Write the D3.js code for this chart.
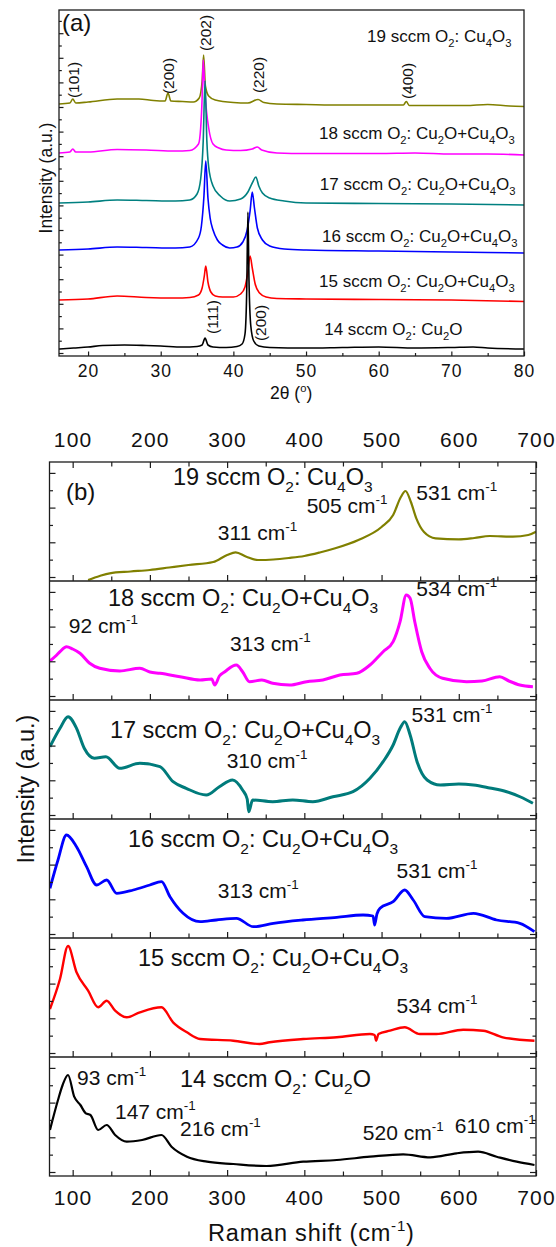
<!DOCTYPE html>
<html>
<head>
<meta charset="utf-8">
<script src="https://cdn.jsdelivr.net/npm/d3@7"></script>
<style>
  body { margin: 0; background: #fff; }
  svg { display: block; }
  text { font-family: "Liberation Sans", Arial, sans-serif; fill: #111; white-space: pre; }
</style>
</head>
<body>
<svg id="chart" width="556" height="1247"></svg>
<script>
// ---- panel (a): XRD, 2theta (deg) vs intensity (a.u.) ----
const xrdNames = [
  '14 sccm O_2: Cu_2O',
  '15 sccm O_2: Cu_2O+Cu_4O_3',
  '16 sccm O_2: Cu_2O+Cu_4O_3',
  '17 sccm O_2: Cu_2O+Cu_4O_3',
  '18 sccm O_2: Cu_2O+Cu_4O_3',
  '19 sccm O_2: Cu_4O_3'
]
const xrd14 = [[16, 7], [18, 8], [20, 9], [22, 10.5], [25, 11], [28, 10.5], [30, 10], [33, 9], [35, 9.5], [35.7, 11], [36.1, 18], [36.5, 11], [37.2, 9], [39, 8.5], [40.5, 9.5], [41.2, 12], [41.6, 22], [41.85, 70], [42.0, 144], [42.15, 75], [42.4, 30], [42.8, 15], [43.5, 10], [45, 8.5], [50, 8], [55, 8.5], [60, 9], [65, 8], [70, 8.5], [73, 9], [75, 8], [80, 7]]
const xrd15 = [[16, 56], [20, 57], [24, 60], [28, 58.5], [32, 58], [34, 58.5], [35.2, 61], [35.7, 68], [36.0, 80], [36.2, 90], [36.5, 74], [36.9, 64], [37.5, 60], [38.5, 59], [40, 59], [41, 62], [41.6, 69], [41.95, 82], [42.3, 100], [42.6, 88], [43.0, 72], [43.6, 63], [44.5, 59], [46, 57.5], [50, 57], [60, 56.5], [70, 56], [80, 54.5]]
const xrd16 = [[16, 106], [20, 107], [24, 109], [28, 108.5], [32, 108], [34, 109], [35.2, 118], [35.6, 130], [35.95, 160], [36.2, 195], [36.5, 158], [36.8, 138], [37.2, 126], [37.8, 116], [38.5, 111], [39.5, 108], [40.5, 109], [41.3, 114], [41.9, 126], [42.3, 145], [42.6, 164], [42.9, 148], [43.3, 128], [44, 116], [45, 110], [47, 107], [50, 106], [60, 105], [70, 104], [80, 103]]
const xrd17 = [[16, 153], [20, 154], [24, 156], [28, 155.5], [32, 155], [34, 156], [35.0, 162], [35.5, 177], [35.85, 215], [36.1, 275], [36.35, 215], [36.6, 189], [37.2, 170], [38.2, 160], [39.5, 155], [41, 157], [42, 164], [42.6, 173], [43.1, 179], [43.5, 170], [44, 163], [45, 158], [47, 155], [50, 153], [60, 152.5], [70, 152], [80, 151]]
const xrd18 = [[16, 203], [17.5, 204], [17.9, 207], [18.3, 204], [20, 204], [24, 206.5], [28, 206], [32, 205], [34, 205.5], [35.2, 212], [35.5, 228], [35.7, 258], [35.85, 296], [36.05, 268], [36.3, 245], [36.6, 228], [37.2, 212], [38, 208], [39, 206], [41, 205.5], [42.6, 207], [43.3, 209], [43.9, 206], [46, 203], [50, 202.5], [60, 202.5], [65, 203], [70, 202], [75, 202], [80, 201]]
const xrd19 = [[16, 252], [17.5, 253], [17.9, 257], [18.3, 253], [20, 254], [24, 257], [27, 257], [29, 255.5], [30.6, 255], [31.0, 263], [31.4, 255], [33, 254.5], [34.5, 254], [35.3, 258], [35.7, 275], [35.9, 301], [36.15, 270], [36.6, 260], [37.5, 256], [40, 253.5], [42, 253], [43.4, 256.5], [44.2, 253.5], [46, 252], [50, 251.5], [55, 251], [60, 251], [63.4, 251], [63.8, 254.5], [64.2, 250.5], [68, 250.5], [72, 250.5], [75, 251.5], [78, 250], [80, 249.5]]
const xrdSeries = [xrd14, xrd15, xrd16, xrd17, xrd18, xrd19]
const xrdNameAt = [[52.5, 21], [51.8, 69.3], [52.2, 114.3], [51.9, 166], [51.8, 217], [58.4, 314]]
const millerText = ['(101)', '(200)', '(202)', '(220)', '(400)', '(111)', '(200)']
const millerAt = [[17.93, 276], [31.0, 280], [36.1, 323], [43.4, 281], [64.0, 275], [37.06, 39], [43.66, 33]]
const xrdTicks = [20, 30, 40, 50, 60, 70, 80]

// ---- panel (b): Raman, top to bottom 19 ... 14 sccm ----
const ramanNames = [
  '19 sccm O_2: Cu_4O_3',
  '18 sccm O_2: Cu_2O+Cu_4O_3',
  '17 sccm O_2: Cu_2O+Cu_4O_3',
  '16 sccm O_2: Cu_2O+Cu_4O_3',
  '15 sccm O_2: Cu_2O+Cu_4O_3',
  '14 sccm O_2: Cu_2O'
]
const raman19 = [[120, 1], [135, 5], [148, 7.7], [175, 9.5], [200, 11], [225, 13.5], [250, 16], [282, 19], [300, 26], [311, 28.7], [325, 24.3], [340, 21], [360, 21.5], [380, 23], [400, 25], [420, 28.5], [440, 32.7], [470, 41], [500, 54], [515, 66], [525, 84], [531, 90], [538, 79], [545, 62.7], [555, 49], [570, 42.7], [600, 41.7], [620, 43], [640, 45], [670, 44.3], [690, 46], [700, 49.3]]
const raman18 = [[70.6, 39], [78, 44], [83.6, 48.3], [92, 53.3], [100, 51], [109.5, 46.7], [122, 36.7], [135, 31.7], [161, 29], [187, 31.7], [200, 28], [213, 26.7], [239, 23.3], [265, 20], [280, 21], [284, 15], [290, 24], [297, 28.3], [312, 35], [320, 28.3], [329, 18.3], [345, 20], [359, 16.7], [381, 15], [403, 18.3], [424, 20], [446, 25], [468, 26.7], [485, 35], [502, 48.3], [515, 58.3], [524, 78.3], [532, 105], [537, 101.7], [543, 78.3], [552, 48.3], [562.5, 31.7], [579, 21.7], [610, 18.3], [630, 19], [653, 23.3], [665, 19], [679, 15], [696, 13.3]]
const raman17 = [[70.6, 72.3], [83.6, 90.7], [94, 102.3], [105, 90.7], [115, 70.7], [128, 60.7], [143, 62.3], [161, 50.7], [187, 55.7], [213, 52.3], [230, 37.3], [247, 30.7], [273, 24], [290, 32.3], [307, 39], [320, 29], [326, 20], [328, 7.3], [333, 19], [359, 17.3], [385, 19], [411, 17.3], [437, 22.3], [463, 27.3], [485, 40.7], [502, 57.3], [515, 74], [524, 90.7], [530, 97.3], [537, 84], [546, 57.3], [559, 39], [576, 34], [600, 35], [619, 34], [640, 31], [662, 27.3], [680, 22], [696, 15.7]]
const raman16 = [[70.6, 49.7], [81, 78], [92, 103], [105, 91.3], [118, 71.3], [131, 53], [144, 58], [157, 44.7], [178.5, 48], [200, 53], [215, 56.3], [226, 41.3], [243, 24.7], [265, 16.3], [286, 18], [312, 19.7], [334, 11.3], [360, 14.7], [398, 18], [442, 20.7], [476, 23], [489, 22], [491, 13], [494, 24], [498, 29.7], [515, 36.3], [530, 48], [541, 38], [556, 21.3], [584, 19.7], [619, 24.7], [649, 18], [679, 14.7], [698, 6.3]]
const raman15 = [[70.6, 48], [83.6, 78], [94, 111], [105, 84.7], [120, 66.3], [133, 49.7], [144, 56.3], [155, 46.3], [170, 39.7], [187, 44.7], [215, 49.7], [230, 34.7], [248, 24.7], [265, 18], [308, 16.3], [342, 13], [355, 14.7], [398.5, 18], [442, 19.7], [485, 23], [491, 22], [493, 16.3], [496, 23], [511, 26.3], [530, 29.7], [549.6, 23], [571, 23], [605.7, 27.3], [631.6, 26.3], [657, 19.7], [698, 16.3]]
const raman14 = [[70.6, 46], [81, 76], [87, 91], [94, 101], [102, 79.3], [110, 71], [117, 62.7], [123, 61], [133, 46], [144, 51], [155, 41], [170, 34.3], [190, 36], [215, 41], [228, 29.3], [248, 19.3], [274, 14.3], [308, 12], [351, 10], [398.5, 14.3], [442, 16], [485, 19.3], [528, 21.7], [563, 18.7], [597, 22.7], [625, 24.3], [649, 19.3], [675, 14.3], [698, 11]]
const ramanSeries = [raman19, raman18, raman17, raman16, raman15, raman14]
const ramanNameAt = [[229.9, 96], [145.7, 94.3], [148.3, 81], [171.6, 91.3], [184.6, 91.3], [239, 89.3]]
const ramanPeaks = [
  [['311 cm^-1', 288, 41], ['505 cm^-1', 403, 68], ['531 cm^-1', 545, 81]],
  [['92 cm^-1', 95, 67], ['313 cm^-1', 303.6, 49], ['534 cm^-1', 545, 104.3]],
  [['310 cm^-1', 299.4, 51.3], ['531 cm^-1', 538.9, 97.3]],
  [['313 cm^-1', 288, 40], ['531 cm^-1', 519.5, 60]],
  [['534 cm^-1', 519.5, 44]],
  [['93 cm^-1', 105.6, 91], ['147 cm^-1', 154.8, 57], ['216 cm^-1', 239, 40], ['520 cm^-1', 475.8, 36], ['610 cm^-1', 594.9, 43]]
]
const ramanTicks = [100, 200, 300, 400, 500, 600, 700]
const ramanMinor = [150, 250, 350, 450, 550, 650]

// ---- style ----
const ink = '#1c1c1c'
const xrdColors = ['#000000', '#ff0000', '#0000ff', '#008080', '#ff00ff', '#808000']
const ramanColors = ['#808000', '#ff00ff', '#007b7b', '#0000ff', '#ff0000', '#000000']
const ramanWidths = [2.2, 3, 3, 2.8, 2.4, 2.2]

const svg = d3.select('#chart')

// text with _2 subscripts and ^-1 / ^o superscripts
function richText (sel, str, size) {
  const parts = str.split(/(_\d|\^-1|\^o)/).filter(s => s !== '')
  let shift = 0
  sel.attr('font-size', size)
  parts.forEach(p => {
    let t = p
    let target = 0
    let fs = size
    if (p[0] === '_') { t = p.slice(1); target = 0.3 * size; fs = size * 0.66 }
    if (p[0] === '^') { t = p.slice(1); target = -0.42 * size; fs = size * 0.64 }
    sel.append('tspan').attr('dy', target - shift).attr('font-size', fs).text(t)
    shift = target
  })
  return sel
}

function styleAxis (g) {
  g.select('.domain').remove()
  g.selectAll('line').attr('stroke', ink).attr('stroke-width', 1.2)
  g.selectAll('text').attr('fill', '#111')
}

// ================= panel (a) =================
const ax = d3.scaleLinear().domain([16, 80]).range([59, 524])
const ay = d3.scaleLinear().domain([0, 346]).range([356, 10])

svg.append('clipPath').attr('id', 'clipA')
  .append('rect').attr('x', 59).attr('y', 10).attr('width', 465).attr('height', 346)

const lineA = d3.line().x(d => ax(d[0])).y(d => ay(d[1])).curve(d3.curveMonotoneX)

svg.append('g').attr('clip-path', 'url(#clipA)')
  .selectAll('path')
  .data(xrdSeries.map((s, i) => ({ s, i })).reverse())
  .join('path')
  .attr('d', d => lineA(d.s))
  .attr('fill', 'none')
  .attr('stroke', d => xrdColors[d.i])
  .attr('stroke-width', 1.6)
  .attr('stroke-linejoin', 'round')

svg.append('g').attr('transform', 'translate(0,356)')
  .call(d3.axisBottom(ax).tickValues(xrdTicks).tickSize(-4.5).tickPadding(9).tickFormat(d3.format('d')))
  .call(styleAxis)
  .call(g => g.selectAll('text').attr('font-size', 17.5).attr('letter-spacing', 1).attr('font-family', '"Liberation Sans", Arial, sans-serif'))
svg.append('g').attr('transform', 'translate(0,356)')
  .call(d3.axisBottom(ax).tickValues(d3.range(25, 80, 10)).tickSize(-3).tickFormat(''))
  .call(styleAxis)

const ayTicks = d3.range(3, 346, 12.3)
svg.append('g').attr('transform', 'translate(59,0)')
  .call(d3.axisLeft(ay).tickValues(ayTicks.filter((d, i) => i % 2 === 0)).tickSize(-4.5).tickFormat(''))
  .call(styleAxis)
svg.append('g').attr('transform', 'translate(59,0)')
  .call(d3.axisLeft(ay).tickValues(ayTicks.filter((d, i) => i % 2 === 1)).tickSize(-2.8).tickFormat(''))
  .call(styleAxis)

svg.append('rect').attr('x', 59).attr('y', 10).attr('width', 465).attr('height', 346)
  .attr('fill', 'none').attr('stroke', ink).attr('stroke-width', 1.3)

xrdNames.forEach((name, i) => {
  richText(svg.append('text').attr('x', ax(xrdNameAt[i][0])).attr('y', ay(xrdNameAt[i][1])), name, 17)
})

millerText.forEach((t, i) => {
  svg.append('text')
    .attr('transform', `translate(${ax(millerAt[i][0])},${ay(millerAt[i][1])}) rotate(-90)`)
    .attr('text-anchor', 'middle').attr('dy', '0.36em')
    .attr('font-size', 15.5)
    .text(t)
})

svg.append('text').attr('x', 62).attr('y', 31).attr('font-size', 24).text('(a)')

svg.append('text')
  .attr('transform', 'translate(52,178) rotate(-90)')
  .attr('text-anchor', 'middle').attr('font-size', 17.5)
  .text('Intensity (a.u.)')

richText(svg.append('text').attr('x', 270).attr('y', 399), '2θ (^o)', 17.5)

// ================= panel (b) =================
const bx = d3.scaleLinear().domain([70, 700]).range([49.5, 536])
const bTop = 462
const bH = 119
const bBottom = bTop + bH * ramanSeries.length

svg.append('clipPath').attr('id', 'clipB')
  .append('rect').attr('x', 49.5).attr('y', bTop).attr('width', 486.5).attr('height', bBottom - bTop)

const yTickVals = d3.range(4, 119, 17.35)

ramanSeries.forEach((series, i) => {
  const top = bTop + i * bH
  const by = d3.scaleLinear().domain([0, bH]).range([top + bH, top])
  const g = svg.append('g')

  g.append('clipPath').attr('id', 'clipP' + i)
    .append('rect').attr('x', 49.5).attr('y', top).attr('width', 486.5).attr('height', bH)

  g.append('path')
    .attr('clip-path', `url(#clipP${i})`)
    .attr('d', d3.line().x(d => bx(d[0])).y(d => by(d[1])).curve(d3.curveMonotoneX)(series))
    .attr('fill', 'none')
    .attr('stroke', ramanColors[i])
    .attr('stroke-width', ramanWidths[i])
    .attr('stroke-linejoin', 'round')

  // inner ticks on the bottom edge of every panel
  g.append('g').attr('transform', `translate(0,${top + bH})`)
    .call(d3.axisBottom(bx).tickValues(ramanTicks).tickSize(-6).tickFormat(''))
    .call(styleAxis)
  g.append('g').attr('transform', `translate(0,${top + bH})`)
    .call(d3.axisBottom(bx).tickValues(ramanMinor).tickSize(-4.5).tickFormat(''))
    .call(styleAxis)

  // left and right ticks
  const major = yTickVals.filter((d, k) => k % 2 === 0)
  const minor = yTickVals.filter((d, k) => k % 2 === 1)
  g.append('g').attr('transform', 'translate(49.5,0)')
    .call(d3.axisLeft(by).tickValues(major).tickSize(-6).tickFormat('')).call(styleAxis)
  g.append('g').attr('transform', 'translate(49.5,0)')
    .call(d3.axisLeft(by).tickValues(minor).tickSize(-3.5).tickFormat('')).call(styleAxis)
  g.append('g').attr('transform', 'translate(536,0)')
    .call(d3.axisRight(by).tickValues(major).tickSize(-6).tickFormat('')).call(styleAxis)
  g.append('g').attr('transform', 'translate(536,0)')
    .call(d3.axisRight(by).tickValues(minor).tickSize(-3.5).tickFormat('')).call(styleAxis)

  if (i > 0) {
    g.append('line').attr('x1', 49.5).attr('x2', 536).attr('y1', top).attr('y2', top)
      .attr('stroke', ink).attr('stroke-width', 1.3)
  }

  const labels = svg.append('g').attr('clip-path', 'url(#clipB)')
  richText(labels.append('text').attr('x', bx(ramanNameAt[i][0])).attr('y', by(ramanNameAt[i][1])), ramanNames[i], 23.5)
  ramanPeaks[i].forEach(p => {
    richText(labels.append('text').attr('x', bx(p[1])).attr('y', by(p[2])), p[0], 21)
  })
})

// top axis with labels
svg.append('g').attr('transform', `translate(0,${bTop})`)
  .call(d3.axisTop(bx).tickValues(ramanTicks).tickSize(-6).tickPadding(15).tickFormat(d3.format('d')))
  .call(styleAxis)
  .call(g => g.selectAll('text').attr('font-size', 21).attr('letter-spacing', 1.2).attr('font-family', '"Liberation Sans", Arial, sans-serif'))
svg.append('g').attr('transform', `translate(0,${bTop})`)
  .call(d3.axisTop(bx).tickValues(ramanMinor).tickSize(-4.5).tickFormat(''))
  .call(styleAxis)

// bottom axis labels
svg.append('g').attr('transform', `translate(0,${bBottom})`)
  .call(d3.axisBottom(bx).tickValues(ramanTicks).tickSize(0).tickPadding(14).tickFormat(d3.format('d')))
  .call(styleAxis)
  .call(g => g.selectAll('text').attr('font-size', 21).attr('letter-spacing', 1.2).attr('font-family', '"Liberation Sans", Arial, sans-serif'))

svg.append('rect').attr('x', 49.5).attr('y', bTop).attr('width', 486.5).attr('height', bBottom - bTop)
  .attr('fill', 'none').attr('stroke', ink).attr('stroke-width', 1.3)

svg.append('text').attr('x', 66).attr('y', 500).attr('font-size', 24).text('(b)')

svg.append('text')
  .attr('transform', 'translate(34,789) rotate(-90)')
  .attr('text-anchor', 'middle').attr('font-size', 23.5)
  .text('Intensity (a.u.)')

richText(svg.append('text').attr('x', 208).attr('y', 1241).attr('letter-spacing', 0.8), 'Raman shift (cm^-1)', 23.5)
</script>
</body>
</html>
